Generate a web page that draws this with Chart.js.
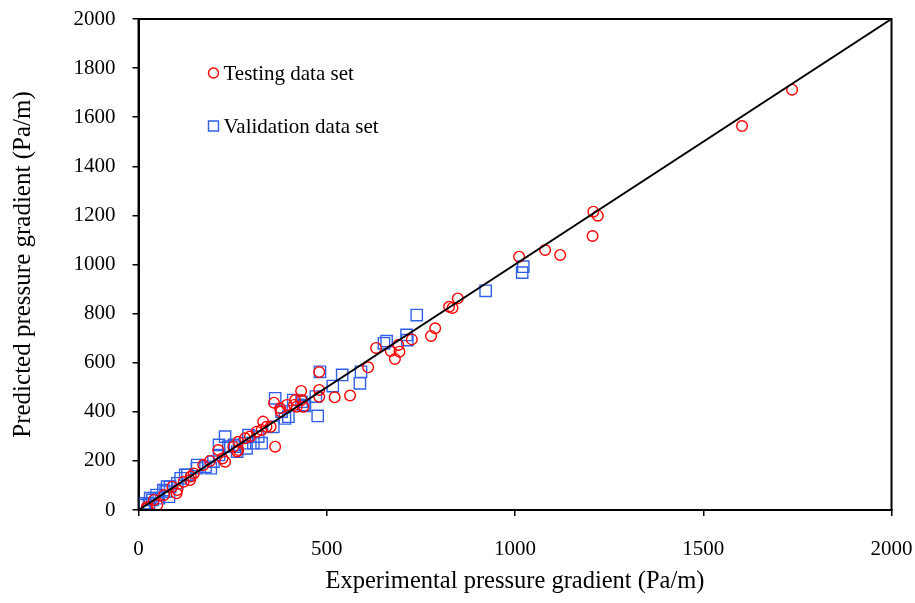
<!DOCTYPE html>
<html>
<head>
<meta charset="utf-8">
<title>Predicted vs experimental pressure gradient</title>
<script src="https://cdn.jsdelivr.net/npm/chart.js@4.4.1/dist/chart.umd.min.js"></script>
<style>
    html, body { margin: 0; padding: 0; background: #fff; }
    #wrap { width: 915px; height: 603px; }
</style>
</head>
<body>
<div id="wrap"><canvas id="parityChart" width="915" height="603"></canvas></div>
<script>
// values
const testingX = [1736, 1603, 1208, 1220, 1206, 1120, 1080, 1011, 848, 825, 834, 788, 777, 726, 690, 693, 670, 681,
    631, 610, 562, 521, 480, 480, 480, 432, 438, 416, 433, 413, 394, 376, 378, 420, 360, 363, 331, 340, 327, 314,
    351, 283, 296, 265, 252, 265, 262, 230, 223, 212, 172, 147, 139, 137, 103, 101, 90, 68, 50, 41, 23, 22, 120, 190];
const testingY = [1712, 1564, 1215, 1199, 1116, 1039, 1059, 1032, 862, 828, 823, 740, 709, 695, 672, 645, 648, 615,
    660, 581, 466, 459, 562, 489, 461, 485, 421, 448, 448, 428, 428, 414, 401, 421, 437, 258, 360, 339, 326, 319,
    339, 292, 299, 278, 258, 244, 238, 197, 210, 244, 183, 149, 136, 122, 81, 68, 95, 61, 20, 41, 7, 12, 115, 200];

const validationX = [1022, 1019, 922, 739, 712, 714, 659, 652, 591, 588, 541, 516, 482, 471, 476, 433, 442, 363,
    411, 438, 380, 398, 358, 318, 292, 230, 327, 305, 283, 239, 214, 254, 262, 214, 178, 156, 192, 130, 112, 103,
    76, 72, 81, 54, 37, 28, 15, 389, 124, 84, 66, 48, 31, 17, 287, 256, 199, 155];
const validationY = [991, 967, 893, 794, 713, 692, 688, 679, 563, 516, 550, 505, 563, 462, 383, 441, 424, 455,
    448, 428, 401, 380, 339, 299, 305, 299, 272, 272, 272, 258, 265, 265, 238, 224, 176, 183, 170, 143, 129, 109,
    95, 75, 54, 48, 41, 27, 20, 373, 143, 95, 81, 61, 48, 27, 251, 258, 197, 170];

const idealLine = [0, 2000];
const axisTicks = { min: 0, max: 2000, xStep: 500, yStep: 200 };

const seriesNames = ['Testing data set', 'Validation data set'];
const xTitle = 'Experimental pressure gradient (Pa/m)';
const yTitle = 'Predicted pressure gradient (Pa/m)';

const RED = '#ff0000';
const BLUE = '#3060e8';
const SERIF = "'Liberation Serif', 'Times New Roman', serif";

function toPoints(xs, ys) {
    return xs.map((x, i) => ({ x: x, y: ys[i] }));
}

// frame on top/right plus the in-plot legend
const framePlugin = {
    id: 'frame',
    afterDraw(chart) {
        const { ctx, chartArea: a } = chart;
        ctx.save();
        ctx.strokeStyle = '#000';
        ctx.lineWidth = 2;
        ctx.strokeRect(a.left, a.top, a.right - a.left, a.bottom - a.top);

        const mx = a.left + 75;
        const rows = [
            { y: a.top + 54, ds: chart.data.datasets[1] },
            { y: a.top + 107, ds: chart.data.datasets[2] }
        ];
        ctx.font = '21px ' + SERIF;
        ctx.textBaseline = 'middle';
        ctx.fillStyle = '#000';
        rows.forEach(r => {
            ctx.strokeStyle = r.ds.borderColor;
            ctx.lineWidth = 1.4;
            ctx.beginPath();
            if (r.ds.pointStyle === 'rect') {
                ctx.rect(mx - 5, r.y - 5, 10, 10);
            } else {
                ctx.arc(mx, r.y, 5, 0, Math.PI * 2);
            }
            ctx.stroke();
            ctx.fillText(r.ds.label, mx + 10, r.y + 1);
        });
        ctx.restore();
    }
};

const plainLabel = value => String(value);

const ctx = document.getElementById('parityChart');

new Chart(ctx, {
    type: 'scatter',
    data: {
        datasets: [{
            label: 'y = x',
            data: toPoints(idealLine, idealLine),
            showLine: true,
            borderColor: '#000',
            borderWidth: 2,
            pointRadius: 0,
            order: 0
        }, {
            label: seriesNames[0],
            data: toPoints(testingX, testingY),
            pointStyle: 'circle',
            pointRadius: 5.3,
            borderColor: RED,
            backgroundColor: 'rgba(0,0,0,0)',
            borderWidth: 1.4,
            order: 1
        }, {
            label: seriesNames[1],
            data: toPoints(validationX, validationY),
            pointStyle: 'rect',
            pointRadius: 8,
            borderColor: BLUE,
            backgroundColor: 'rgba(0,0,0,0)',
            borderWidth: 1.4,
            order: 2
        }]
    },
    options: {
        responsive: false,
        animation: false,
        devicePixelRatio: 1,
        layout: {
            padding: { top: 19, right: 23.5, left: 0, bottom: 0 }
        },
        scales: {
            x: {
                type: 'linear',
                min: axisTicks.min,
                max: axisTicks.max,
                afterFit: function(scale) {
                    scale.height = 93;
                    scale.paddingLeft = 0;
                    scale.paddingRight = 0;
                },
                border: { display: true, color: '#000', width: 2 },
                grid: { drawOnChartArea: false, drawTicks: true, tickLength: 6, color: '#000', lineWidth: 1.5 },
                ticks: {
                    stepSize: axisTicks.xStep,
                    color: '#000',
                    padding: 21,
                    maxRotation: 0,
                    callback: plainLabel,
                    font: { family: SERIF, size: 21 }
                },
                title: {
                    display: true,
                    text: xTitle,
                    color: '#000',
                    padding: { top: 4, bottom: 7 },
                    font: { family: SERIF, size: 24.5 }
                }
            },
            y: {
                type: 'linear',
                min: axisTicks.min,
                max: axisTicks.max,
                afterFit: function(scale) {
                    scale.width = 138.5;
                    scale.paddingTop = 0;
                    scale.paddingBottom = 0;
                },
                border: { display: true, color: '#000', width: 2 },
                grid: { drawOnChartArea: false, drawTicks: true, tickLength: 6, color: '#000', lineWidth: 1.5 },
                ticks: {
                    stepSize: axisTicks.yStep,
                    color: '#000',
                    padding: 17,
                    callback: plainLabel,
                    font: { family: SERIF, size: 21 }
                },
                title: {
                    display: true,
                    text: yTitle,
                    color: '#000',
                    padding: { top: 8, bottom: 0 },
                    font: { family: SERIF, size: 25 }
                }
            }
        },
        plugins: {
            legend: { display: false },
            tooltip: { enabled: false }
        }
    },
    plugins: [framePlugin]
});
</script>
</body>
</html>
